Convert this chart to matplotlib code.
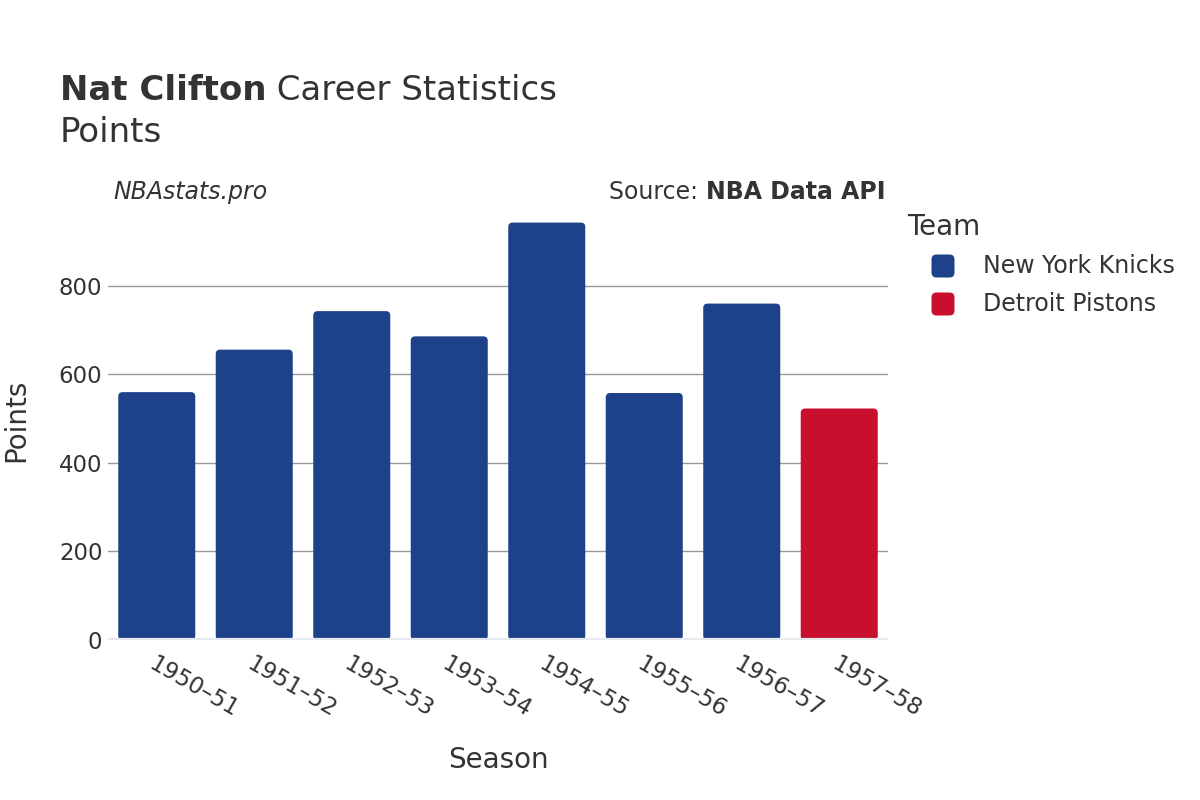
import matplotlib.pyplot as plt
from matplotlib.patches import FancyBboxPatch

seasons = ["1950–51", "1951–52", "1952–53", "1953–54", "1954–55", "1955–56", "1956–57", "1957–58"]
points = [560, 656, 743, 686, 943, 558, 760, 523]
teams = ["New York Knicks"] * 7 + ["Detroit Pistons"]
team_names = ["New York Knicks", "Detroit Pistons"]
team_colors = {"New York Knicks": "#1d428a", "Detroit Pistons": "#c8102e"}

txt = "#333333"
plt.rcParams['font.family'] = ['DejaVu Sans']

W, H = 1200, 800
fig = plt.figure(figsize=(W / 100, H / 100), dpi=100)
ax = fig.add_axes([0.09, 0.2, 0.65, 0.545])
renderer = fig.canvas.get_renderer()


def px(x, y):
    # pixel position from top-left -> figure fraction
    return x / W, 1 - y / H


x = list(range(len(seasons)))
ax.set_xlim(-0.5, len(seasons) - 0.5)
ax.set_ylim(0, 985)

# px per data unit, for rounding the bar corners evenly
sx = 780 / len(seasons)
sy = 436 / 985
width = 0.79
for xi, v, t in zip(x, points, teams):
    p = FancyBboxPatch((xi - width / 2, 0), width, v,
                       boxstyle="round,pad=0,rounding_size=0.045",
                       mutation_aspect=sx / sy,
                       fc=team_colors[t], ec="none", zorder=3)
    ax.add_patch(p)

ax.set_yticks([0, 200, 400, 600, 800])
ax.yaxis.grid(True, color="#999999", linewidth=1)
ax.set_axisbelow(True)
ax.axhline(0, color="#e6e9ef", linewidth=3, zorder=4)
for s in ax.spines.values():
    s.set_visible(False)
ax.tick_params(axis="both", length=0, labelsize=16.5, labelcolor=txt)
ax.tick_params(axis="y", pad=4)
ax.set_xticks(x)
ax.set_xticklabels(seasons, rotation=-30, ha="left", va="top", rotation_mode="anchor")
ax.tick_params(axis="x", pad=9)

ax.set_xlabel("Season", fontsize=20, color=txt, va="center")
ax.xaxis.set_label_coords(0.5, -0.275)
ax.set_ylabel("Points", fontsize=20, color=txt, va="center")
ax.yaxis.set_label_coords(-0.117, 0.505)

# title
t1 = fig.text(*px(60, 90), "Nat Clifton", fontsize=24.5, fontweight="bold", color=txt, va="center")
bb = t1.get_window_extent(renderer)
fig.text(bb.x1 / W, 1 - 90 / H, " Career Statistics", fontsize=24.5, color=txt, va="center")
fig.text(*px(60, 133), "Points", fontsize=24.5, color=txt, va="center")

# source line
fig.text(*px(113, 192), "NBAstats.pro", fontsize=17, style="italic", color=txt, va="center")
s2 = fig.text(*px(885, 192), "NBA Data API", fontsize=17, fontweight="bold", color=txt,
              va="center", ha="right")
bb = s2.get_window_extent(renderer)
fig.text(bb.x0 / W, 1 - 192 / H, "Source: ", fontsize=17, color=txt, va="center", ha="right")

# legend
fig.text(*px(907, 227), "Team", fontsize=20, color=txt, va="center")
for i, name in enumerate(team_names):
    yc = 266 + i * 38
    size = 23
    box = FancyBboxPatch(((943 - size / 2) / 100, (H - yc - size / 2) / 100), size / 100, size / 100,
                         boxstyle="round,pad=0,rounding_size=0.05",
                         transform=fig.dpi_scale_trans, fc=team_colors[name], ec="none")
    fig.add_artist(box)
    fig.text(*px(983, yc), name, fontsize=17, color=txt, va="center")

fig.savefig("out.png", dpi=100)
